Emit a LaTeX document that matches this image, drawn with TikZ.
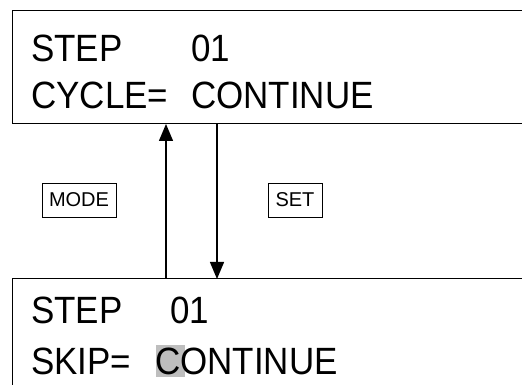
\documentclass[tikz,border=0pt]{standalone}
\usepackage{fontspec}
\usepackage{graphicx}
\setmainfont{Liberation Sans}
\usetikzlibrary{arrows.meta}
\definecolor{hl}{RGB}{190,190,190}
\newcommand{\lcdtxt}[1]{\scalebox{0.92}[1]{#1}}
\begin{document}
\begin{tikzpicture}[x=1pt,y=1pt,
  lcd/.style={font=\fontsize{38}{40}\selectfont, inner sep=0pt, anchor=base west},
  key/.style={draw, line width=0.8pt, font=\fontsize{20}{22}\selectfont, inner sep=2pt, minimum height=34pt},
  frame/.style={line width=1pt},
  conn/.style={line width=1.3pt, -{Triangle[length=17pt,width=14pt]}}]
\useasboundingbox (0,0) rectangle (522,385);
% top display
\draw[frame] (530,261) -- (12,261) -- (12,374) -- (530,374);
\node[lcd] (t1a) at (31,323) {\lcdtxt{STEP}};
\node[lcd] (t1b) at (191,323) {\lcdtxt{01}};
\node[lcd] (t2a) at (31,276) {\lcdtxt{CYCLE=}};
\node[lcd] (t2b) at (191,276) {\lcdtxt{CONTINUE}};
% bottom display
\draw[frame] (12,-10) -- (12,106) -- (530,106);
\fill[hl] (156,8) rectangle (185,40);
\node[lcd] (b1a) at (31,61) {\lcdtxt{STEP}};
\node[lcd] (b1b) at (170,61) {\lcdtxt{01}};
\node[lcd] (b2a) at (31,10) {\lcdtxt{SKIP=}};
\node[lcd] (b2b) at (155,10) {\lcdtxt{CONTINUE}};
% connectors
\coordinate (upS) at (166,106);
\coordinate (upE) at (166,261);
\coordinate (dnS) at (217,261);
\coordinate (dnE) at (217,106);
\draw[conn] (upS) -- (upE);
\draw[conn] (dnS) -- (dnE);
% keys
\node[key, minimum width=74pt] (mode) at (79,185) {MODE};
\node[key, minimum width=54pt] (set) at (295,185) {SET};
\end{tikzpicture}
\end{document}
